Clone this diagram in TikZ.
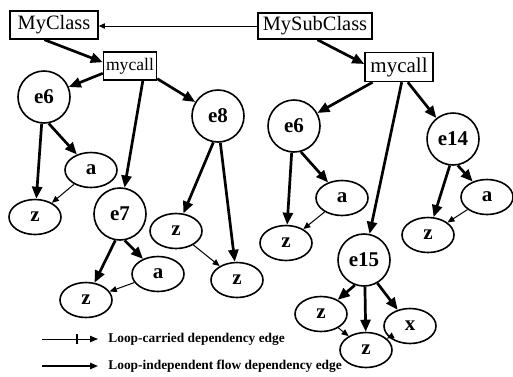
\documentclass[tikz,border=0pt]{standalone}
\usepackage{fontspec}
\setmainfont{Liberation Serif}
\usetikzlibrary{arrows.meta,shapes.geometric}

\tikzset{
  px/.style={x=0.5pt,y=-0.5pt},
  cls/.style={draw, line width=0.75pt, inner sep=0pt, fill=white,
    font=\fontsize{10.2}{12}\selectfont},
  stmt/.style={circle, draw, line width=0.8pt, minimum size=26pt, inner sep=0pt,
    font=\bfseries\fontsize{10.5}{12}\selectfont},
  var/.style={ellipse, draw, line width=0.8pt, minimum width=26pt, minimum height=17.5pt,
    inner sep=0pt, font=\bfseries\fontsize{10.5}{12}\selectfont},
  flow/.style={-{Triangle[length=6pt,width=5pt]}, line width=1.35pt},
  dep/.style={-{Triangle[length=3.5pt,width=3pt]}, line width=0.5pt},
  inherit/.style={-{Triangle[length=3pt,width=2.6pt]}, line width=0.5pt},
  legendtext/.style={anchor=west, inner sep=0pt,
    font=\bfseries\fontsize{6.7}{8}\selectfont},
}

\begin{document}
\begin{tikzpicture}[px]
  \useasboundingbox (0,0) rectangle (513,376);

  % classes and methods
  \node[cls, minimum width=44pt, minimum height=14pt] (MyClass) at (54,25) {MyClass};
  \node[cls, minimum width=57pt, minimum height=13pt] (MySubClass) at (315,26) {MySubClass};
  \node[cls, minimum width=26.5pt, minimum height=14pt, font=\fontsize{8.8}{10}\selectfont]
    (mycallL) at (130,66) {mycall};
  \node[cls, minimum width=34pt, minimum height=14.5pt, font=\fontsize{10.5}{12}\selectfont]
    (mycallR) at (399,67) {mycall};

  % MyClass::mycall
  \node[stmt] (e6L) at (44,97) {e6};
  \node[var] (aL1) at (91,170) {a};
  \node[var] (zL1) at (35,217) {z};
  \node[stmt] (e7) at (120,214) {e7};
  \node[var] (aL2) at (158,274) {a};
  \node[var] (zL2) at (86,300) {z};
  \node[stmt] (e8) at (218,116) {e8};
  \node[var] (zL3) at (176,231) {z};
  \node[var] (zL4) at (237,280) {z};

  % MySubClass::mycall
  \node[stmt] (e6R) at (294,126) {e6};
  \node[var] (aR1) at (342,198) {a};
  \node[var] (zR1) at (286,243) {z};
  \node[stmt] (e14) at (453,139) {e14};
  \node[var] (aR2) at (487,197) {a};
  \node[var] (zR2) at (428,235) {z};
  \node[stmt] (e15) at (364,260) {e15};
  \node[var] (zR3) at (321,314) {z};
  \node[var] (xR) at (410,326) {x};
  \node[var] (zR4) at (366,350) {z};

  % inheritance
  \draw[inherit] (MySubClass.west) -- (MyClass.east |- MySubClass.west);

  % left tree
  \draw[flow] (MyClass.237) -- (mycallL.172);
  \draw[flow] (mycallL.195) -- (e6L);
  \draw[flow] (mycallL.-49) -- (e7);
  \draw[flow] (mycallL.-25) -- (e8);
  \draw[flow] (e6L.-95) -- (zL1);
  \draw[flow] (e6L.-80) -- (aL1);
  \draw[dep] (aL1) -- (zL1);
  \draw[flow] (e7.-100) -- (zL2);
  \draw[flow] (e7.-80) -- (aL2);
  \draw[dep] (aL2) -- (zL2);
  \draw[flow] (e8.-100) -- (zL3);
  \draw[flow] (e8.-85) -- (zL4);
  \draw[dep] (zL3) -- (zL4);

  % right tree
  \draw[flow] (MySubClass.-80) -- (mycallR.175);
  \draw[flow] (mycallR.210) -- (e6R);
  \draw[flow] (mycallR.-80) -- (e15);
  \draw[flow] (mycallR.-60) -- (e14);
  \draw[flow] (e6R.-95) -- (zR1);
  \draw[flow] (e6R.-75) -- (aR1);
  \draw[dep] (aR1) -- (zR1);
  \draw[flow] (e14.-97) -- (zR2);
  \draw[flow] (e14.-80) -- (aR2);
  \draw[dep] (aR2) -- (zR2);
  \draw[flow] (e15.-110) -- (zR3);
  \draw[flow] (e15.-88) -- (zR4);
  \draw[flow] (e15.-60) -- (xR);
  \draw[dep] (zR3) -- (zR4);
  \draw[dep] (xR) -- (zR4);

  % legend
  \coordinate (l1a) at (42,339);
  \coordinate (l1b) at (98,339);
  \coordinate (l1t) at (77,339);
  \coordinate (l2a) at (42,366);
  \coordinate (l2b) at (98,366);
  \draw[-{Triangle[length=4pt,width=3.2pt]}, line width=0.5pt] (l1a) -- (l1b);
  \draw[line width=0.6pt] ([yshift=2.5pt]l1t) -- ([yshift=-2.5pt]l1t);
  \draw[-{Triangle[length=4pt,width=3.2pt]}, line width=0.8pt] (l2a) -- (l2b);
  \node[legendtext] (lt1) at (108,339) {Loop-carried dependency edge};
  \node[legendtext] (lt2) at (108,366) {Loop-independent flow dependency edge};
\end{tikzpicture}
\end{document}
